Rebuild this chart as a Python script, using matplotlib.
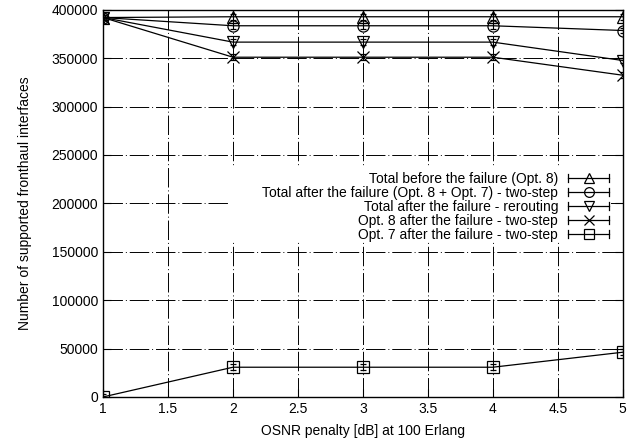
import matplotlib
matplotlib.use('Agg')
import matplotlib.pyplot as plt
from matplotlib.legend_handler import HandlerBase
from matplotlib.lines import Line2D
from matplotlib.patches import Rectangle

plt.rcParams['font.family'] = ['Liberation Sans', 'DejaVu Sans']

osnr = [1, 2, 3, 4, 5]
total_before = [392000, 392800, 392800, 392800, 392800]
total_two_step = [392000, 383500, 383500, 383500, 378600]
total_rerouting = [392000, 366600, 366600, 366600, 347600]
opt8_two_step = [392000, 351000, 351000, 351000, 332400]
opt7_two_step = [0, 30700, 30700, 30700, 46200]

series = [
    ("Total before the failure (Opt. 8)", total_before, '^'),
    ("Total after the failure (Opt. 8 + Opt. 7) - two-step", total_two_step, 'o'),
    ("Total after the failure - rerouting", total_rerouting, 'v'),
    ("Opt. 8 after the failure - two-step", opt8_two_step, 'x'),
    ("Opt. 7 after the failure - two-step", opt7_two_step, 's'),
]
err = 3000


class ErrKeyHandler(HandlerBase):
    # gnuplot style key: horizontal line with end caps and the marker in the middle
    def __init__(self, marker):
        super().__init__()
        self.marker = marker

    def create_artists(self, legend, orig_handle, xdescent, ydescent,
                       width, height, fontsize, trans):
        y = height / 2 - ydescent
        x0, x1 = -xdescent, width - xdescent
        cap = 3.0
        arts = [
            Line2D([x0, x1], [y, y], color='black', lw=0.9, transform=trans),
            Line2D([x0, x0], [y - cap, y + cap], color='black', lw=0.9, transform=trans),
            Line2D([x1, x1], [y - cap, y + cap], color='black', lw=0.9, transform=trans),
            Line2D([(x0 + x1) / 2], [y], marker=self.marker, ms=7, mfc='none',
                   mec='black', mew=0.9, linestyle='none', transform=trans),
        ]
        return arts


fig = plt.figure(figsize=(6.44, 4.45), dpi=100)
ax = fig.add_axes([0.16, 0.108, 0.807, 0.87])

handles = []
hmap = {}
for label, vals, m in series:
    ax.errorbar(osnr, vals, yerr=err, color='black', lw=0.9, elinewidth=0.8,
                capsize=2.5, marker=m, ms=8, mfc='none', mec='black', mew=0.9)
    h = Line2D([], [], color='black')
    handles.append(h)
    hmap[h] = ErrKeyHandler(m)

ax.set_xlim(1, 5)
ax.set_ylim(0, 400000)
ax.set_xticks([1, 1.5, 2, 2.5, 3, 3.5, 4, 4.5, 5])
ax.set_xticklabels(['1', '1.5', '2', '2.5', '3', '3.5', '4', '4.5', '5'])
ax.set_yticks(range(0, 400001, 50000))
ax.grid(True, color='black', lw=0.7, linestyle=(0, (20, 3, 1, 3)))
ax.tick_params(direction='in', top=True, right=True, labelsize=10, length=6)
for s in ax.spines.values():
    s.set_linewidth(1.0)

ax.set_xlabel('OSNR penalty [dB] at 100 Erlang', fontsize=10, labelpad=6)
ax.set_ylabel('Number of supported fronthaul interfaces', fontsize=10, labelpad=14)

# opaque key area hides the grid, like gnuplot's key box
ax.add_patch(Rectangle((0.24, 0.403), 0.737, 0.189, transform=ax.transAxes,
                       facecolor='white', edgecolor='none', zorder=1.8))

ax.legend(handles, [s[0] for s in series], handler_map=hmap, loc='upper right',
          bbox_to_anchor=(0.985, 0.595), frameon=False, markerfirst=False,
          handlelength=3.0, handletextpad=0.7, labelspacing=0.0, fontsize=10,
          borderaxespad=0)

fig.savefig('out.png', dpi=100)
